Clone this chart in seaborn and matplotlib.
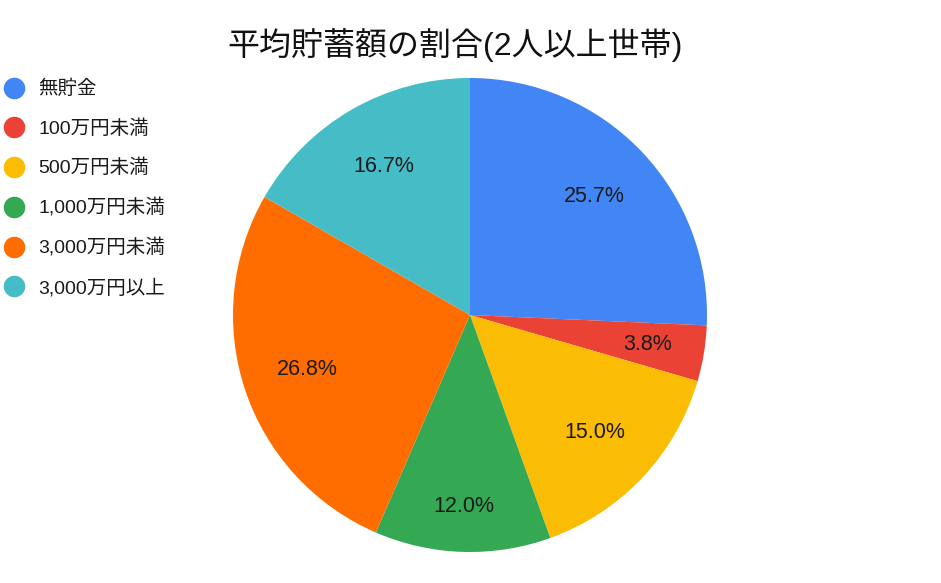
import matplotlib
matplotlib.use('Agg')
import matplotlib.pyplot as plt
import seaborn as sns
from matplotlib.lines import Line2D

title = '平均貯蓄額の割合(2人以上世帯)'
categories = ['無貯金', '100万円未満', '500万円未満', '1,000万円未満', '3,000万円未満', '3,000万円以上']
shares = [25.7, 3.8, 15.0, 12.0, 26.8, 16.7]
colors = ['#4285F4', '#EA4335', '#FBBC04', '#34A853', '#FF6D01', '#46BDC6']

sns.set_theme(style='white')
plt.rcParams['font.family'] = ['Liberation Sans', 'Noto Sans CJK JP', 'DejaVu Sans']

W, H = 941, 583
fig = plt.figure(figsize=(W / 100, H / 100), dpi=100)
fig.patch.set_facecolor('white')

# pie centred at (470, 315) px with radius 237 px
cx, cy, r = 470, 315, 237
ax = fig.add_axes([(cx - r) / W, (H - cy - r) / H, 2 * r / W, 2 * r / H])
wedges, texts, autotexts = ax.pie(shares, colors=colors, startangle=90, counterclock=False,
                                  autopct='%1.1f%%', pctdistance=0.725,
                                  wedgeprops=dict(linewidth=0),
                                  textprops=dict(fontsize=15.5, color='#1a1a1a'))
ax.set_xlim(-1, 1)
ax.set_ylim(-1, 1)
ax.set_aspect('equal')
ax.axis('off')

# narrow slices get their labels pushed outward
x, y = autotexts[3].get_position()
autotexts[3].set_position((x * 0.81 / 0.725, y * 0.81 / 0.725))
x, y = autotexts[1].get_position()
autotexts[1].set_position((x * 0.76 / 0.725, y * 0.76 / 0.725))

fig.text(455 / W, 1 - 45 / H, title, ha='center', va='center', fontsize=23, color='#111111')

handles = [Line2D([], [], marker='o', linestyle='', markersize=14.5, color=c) for c in colors]
fig.legend(handles, categories, loc='upper left', bbox_to_anchor=(4 / W, 1 - 80 / H),
           frameon=False, fontsize=14, handlelength=1.0, handletextpad=0.75,
           labelspacing=1.08, borderpad=0, borderaxespad=0, labelcolor='#1a1a1a')

fig.savefig('out.png', dpi=100, facecolor='white')
